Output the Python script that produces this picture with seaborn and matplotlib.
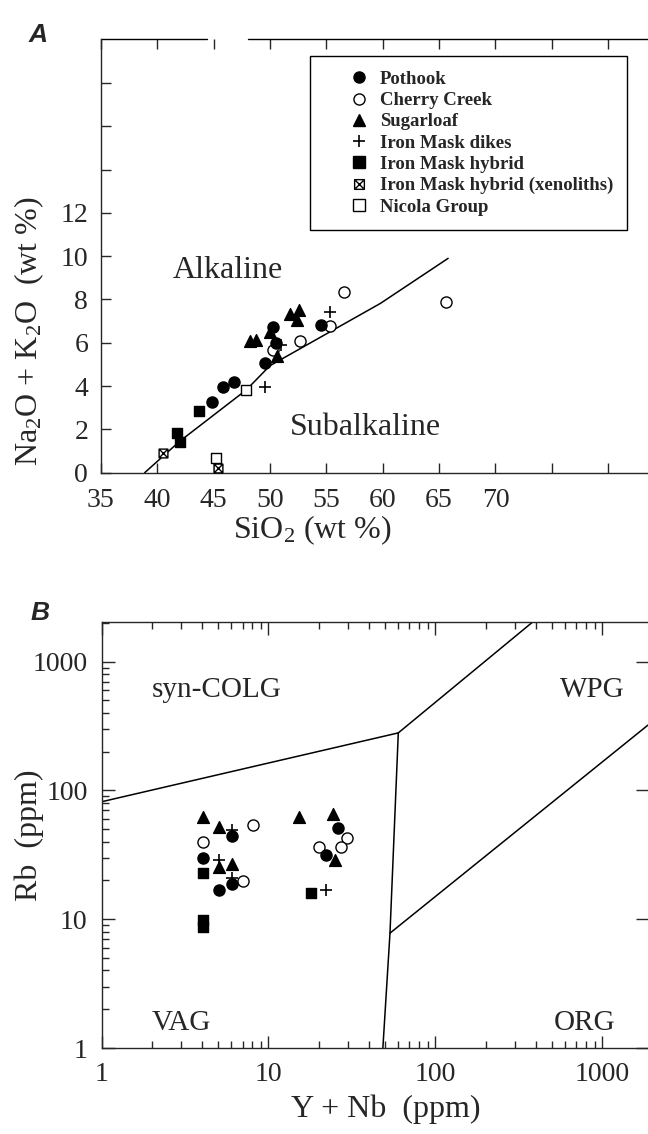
import numpy as np
import pandas as pd
import matplotlib
matplotlib.use("Agg")
import matplotlib.pyplot as plt
import seaborn as sns
from matplotlib.path import Path
from matplotlib.lines import Line2D
from matplotlib.patches import Rectangle
from matplotlib.ticker import FixedLocator, FixedFormatter, LogLocator, NullFormatter

# ---------------- Panel A data (SiO2 vs Na2O+K2O) ----------------
pothook_sio2 = [44.9, 45.8, 46.8, 49.6, 50.3, 50.5, 54.5]
pothook_alk = [3.27, 3.97, 4.19, 5.05, 6.72, 5.98, 6.81]
cherry_sio2 = [56.6, 55.3, 52.7, 50.3, 65.6]
cherry_alk = [8.36, 6.78, 6.10, 5.67, 7.88]
sugar_sio2 = [48.2, 48.8, 51.8, 52.6, 52.4, 50.0, 50.6]
sugar_alk = [6.10, 6.13, 7.33, 7.52, 7.05, 6.51, 5.39]
dikes_sio2 = [55.3, 51.0, 49.6]
dikes_alk = [7.44, 5.90, 3.94]
hybrid_sio2 = [43.7, 41.8, 42.0]
hybrid_alk = [2.85, 1.85, 1.43]
xeno_sio2 = [40.5, 45.4]
xeno_alk = [0.90, 0.20]
nicola_sio2 = [47.9, 45.2]
nicola_alk = [3.82, 0.67]

# alkaline / subalkaline divide
divide_sio2 = [38.9, 42.0, 47.9, 50.0, 59.8, 65.8]
divide_alk = [0.0, 1.45, 3.82, 4.94, 7.82, 9.9]

# ---------------- Panel B data (Y+Nb vs Rb) ----------------
pothook_ynb = [4.04, 5.05, 6.07, 6.07, 26.2, 22.1]
pothook_rb = [29.7, 16.9, 44.3, 18.8, 50.8, 31.5]
cherry_ynb = [4.04, 7.07, 8.11, 29.4, 20.2, 27.1]
cherry_rb = [40.0, 19.8, 53.6, 42.5, 36.2, 36.2]
sugar_ynb = [4.04, 5.05, 5.05, 6.07, 15.2, 24.4, 25.1]
sugar_rb = [62.5, 52.3, 25.3, 26.8, 62.5, 65.6, 28.8]
dikes_ynb = [5.05, 6.07, 6.07, 22.1]
dikes_rb = [28.8, 49.3, 20.8, 16.9]
hybrid_ynb = [4.04, 4.04, 4.04, 18.1]
hybrid_rb = [22.7, 9.9, 8.7, 15.9]

# discrimination boundaries
colg_vag_ynb = [1.0, 60.0]
colg_vag_rb = [81.7, 280.0]
colg_wpg_ynb = [60.0, 385.0]
colg_wpg_rb = [280.0, 2045.0]
vag_org_ynb = [60.0, 53.5, 48.5]
vag_org_rb = [280.0, 7.8, 1.0]
wpg_org_ynb = [53.5, 1880.0]
wpg_org_rb = [7.8, 322.0]

labels = ["Pothook", "Cherry Creek", "Sugarloaf", "Iron Mask dikes",
          "Iron Mask hybrid", "Iron Mask hybrid (xenoliths)", "Nicola Group"]

# ---------------- style ----------------
sns.set_style("ticks")
plt.rcParams["font.family"] = ["Liberation Serif", "DejaVu Serif"]
plt.rcParams["mathtext.fontset"] = "custom"
plt.rcParams["mathtext.rm"] = "Liberation Serif"
plt.rcParams["mathtext.it"] = "Liberation Serif:italic"
plt.rcParams["axes.linewidth"] = 1.0

xeno_path = Path(
    [(-1, -1), (1, -1), (1, 1), (-1, 1), (-1, -1), (-0.8, -0.8), (0.8, 0.8), (-0.8, 0.8), (0.8, -0.8)],
    [Path.MOVETO, Path.LINETO, Path.LINETO, Path.LINETO, Path.CLOSEPOLY,
     Path.MOVETO, Path.LINETO, Path.MOVETO, Path.LINETO])

styles = {
    "Pothook": dict(marker="o", fc="black", s=64),
    "Cherry Creek": dict(marker="o", fc="white", s=64),
    "Sugarloaf": dict(marker="^", fc="black", s=72),
    "Iron Mask dikes": dict(marker="+", fc="black", s=70),
    "Iron Mask hybrid": dict(marker="s", fc="black", s=52),
    "Iron Mask hybrid (xenoliths)": dict(marker=xeno_path, fc="white", s=40),
    "Nicola Group": dict(marker="s", fc="white", s=52),
}


def draw(ax, name, xs, ys):
    st = styles[name]
    df = pd.DataFrame({"x": xs, "y": ys})
    if st["marker"] == "+":
        sns.scatterplot(data=df, x="x", y="y", marker="+", color="black",
                        s=st["s"], linewidth=1.2, ax=ax, zorder=3)
    else:
        sns.scatterplot(data=df, x="x", y="y", marker=st["marker"], facecolor=st["fc"],
                        edgecolor="black", s=st["s"], linewidth=1.0, ax=ax, zorder=3)


def line(ax, xs, ys):
    df = pd.DataFrame({"x": xs, "y": ys})
    sns.lineplot(data=df, x="x", y="y", sort=False, estimator=None, color="black",
                 linewidth=1.1, ax=ax, zorder=2)


fig = plt.figure(figsize=(6.48, 11.34), dpi=100)
W, H = 648.0, 1134.0
axA = fig.add_axes([100.7 / W, 1 - 472.7 / H, (W - 100.7) / W, (472.7 - 39) / H])
axB = fig.add_axes([101.5 / W, 1 - 1048 / H, (W - 101.5) / W, (1048 - 621.7) / H])

# ---------------- Panel A ----------------
line(axA, divide_sio2, divide_alk)
draw(axA, "Nicola Group", nicola_sio2, nicola_alk)
draw(axA, "Iron Mask hybrid (xenoliths)", xeno_sio2, xeno_alk)
draw(axA, "Iron Mask hybrid", hybrid_sio2, hybrid_alk)
draw(axA, "Cherry Creek", cherry_sio2, cherry_alk)
draw(axA, "Sugarloaf", sugar_sio2, sugar_alk)
draw(axA, "Pothook", pothook_sio2, pothook_alk)
draw(axA, "Iron Mask dikes", dikes_sio2, dikes_alk)

axA.set_xlim(35, 35 + 547.3 / 11.28)
axA.set_ylim(0, 20.03)
xt = [35, 40, 45, 50, 55, 60, 65, 70, 75, 80]
axA.xaxis.set_major_locator(FixedLocator(xt))
axA.xaxis.set_major_formatter(FixedFormatter([str(v) if v <= 70 else "" for v in xt]))
yt = list(range(0, 20, 2))
axA.yaxis.set_major_locator(FixedLocator(yt))
axA.yaxis.set_major_formatter(FixedFormatter([str(v) if v <= 12 else "" for v in yt]))
axA.tick_params(direction="in", length=7, width=1, top=True, right=False,
                labelsize=20, pad=9)
axA.tick_params(axis="x", pad=11)
axA.spines["right"].set_visible(False)
axA.spines["top"].set_visible(False)
axA.plot([0, 0.194], [1, 1], color="black", lw=1.0, transform=axA.transAxes, clip_on=False)
axA.plot([0.269, 1], [1, 1], color="black", lw=1.0, transform=axA.transAxes, clip_on=False)

axA.set_xlabel(r"SiO$_2$ (wt %)", fontsize=23)
axA.xaxis.set_label_coords(0.386, -0.095)
axA.set_ylabel(r"Na$_2$O + K$_2$O  (wt %)", fontsize=23)
axA.yaxis.set_label_coords(-0.10, 0.327)

axA.text(46.24, 9.32, "Alkaline", fontsize=23, ha="center", va="center")
axA.text(51.78, 2.1, "Subalkaline", fontsize=23, ha="left", va="center")

# legend
axA.add_patch(Rectangle((0.3824, 0.5596), 0.9617 - 0.3824, 0.9608 - 0.5596,
                        transform=axA.transAxes, fill=False, edgecolor="black",
                        linewidth=1.0, zorder=4))
handles = []
for name in labels:
    st = styles[name]
    if st["marker"] == "+":
        h = Line2D([], [], ls="none", marker="+", color="black", markersize=9, mew=1.2)
    else:
        h = Line2D([], [], ls="none", marker=st["marker"], markerfacecolor=st["fc"],
                   markeredgecolor="black", markersize=8 if name != "Iron Mask hybrid (xenoliths)" else 7,
                   mew=1.0)
    handles.append(h)
axA.legend(handles, labels, loc="upper left", bbox_to_anchor=(0.4548, 0.9267),
           bbox_transform=axA.transAxes, frameon=False,
           prop={"size": 13.5, "weight": "bold", "family": "Liberation Serif"},
           handlelength=1.0, handletextpad=0.62, labelspacing=0.22,
           borderpad=0, borderaxespad=0)

# ---------------- Panel B ----------------
axB.set_xscale("log")
axB.set_yscale("log")
line(axB, colg_vag_ynb, colg_vag_rb)
line(axB, colg_wpg_ynb, colg_wpg_rb)
line(axB, vag_org_ynb, vag_org_rb)
line(axB, wpg_org_ynb, wpg_org_rb)
draw(axB, "Iron Mask hybrid", hybrid_ynb, hybrid_rb)
draw(axB, "Cherry Creek", cherry_ynb, cherry_rb)
draw(axB, "Sugarloaf", sugar_ynb, sugar_rb)
draw(axB, "Pothook", pothook_ynb, pothook_rb)
draw(axB, "Iron Mask dikes", dikes_ynb, dikes_rb)

axB.set_xlim(1, 1880)
axB.set_ylim(1, 2045)
maj = [1, 10, 100, 1000]
for axis in (axB.xaxis, axB.yaxis):
    axis.set_major_locator(FixedLocator(maj))
    axis.set_major_formatter(FixedFormatter([str(v) for v in maj]))
    axis.set_minor_locator(LogLocator(base=10, subs=np.arange(2, 10)))
    axis.set_minor_formatter(NullFormatter())
axB.tick_params(which="major", direction="in", length=9, width=1, top=True, right=True,
                labelsize=20, pad=10)
axB.tick_params(which="minor", direction="in", length=5, width=1, top=True, right=False)
axB.spines["right"].set_visible(False)

axB.set_xlabel("Y + Nb  (ppm)", fontsize=23)
axB.xaxis.set_label_coords(0.52, -0.11)
axB.set_ylabel("Rb  (ppm)", fontsize=23)
axB.yaxis.set_label_coords(-0.105, 0.5)

axB.text(2.0, 602, "syn-COLG", fontsize=21, ha="left", va="center")
axB.text(877, 602, "WPG", fontsize=21, ha="center", va="center")
axB.text(2.0, 1.56, "VAG", fontsize=21, ha="left", va="center")
axB.text(785, 1.56, "ORG", fontsize=21, ha="center", va="center")

# panel letters
fig.text(38 / W, 1 - 35 / H, "A", fontsize=19, fontweight="bold", fontstyle="italic",
         family="Liberation Sans", ha="center", va="center")
fig.text(40 / W, 1 - 613 / H, "B", fontsize=19, fontweight="bold", fontstyle="italic",
         family="Liberation Sans", ha="center", va="center")

fig.savefig("out.png", dpi=100)
